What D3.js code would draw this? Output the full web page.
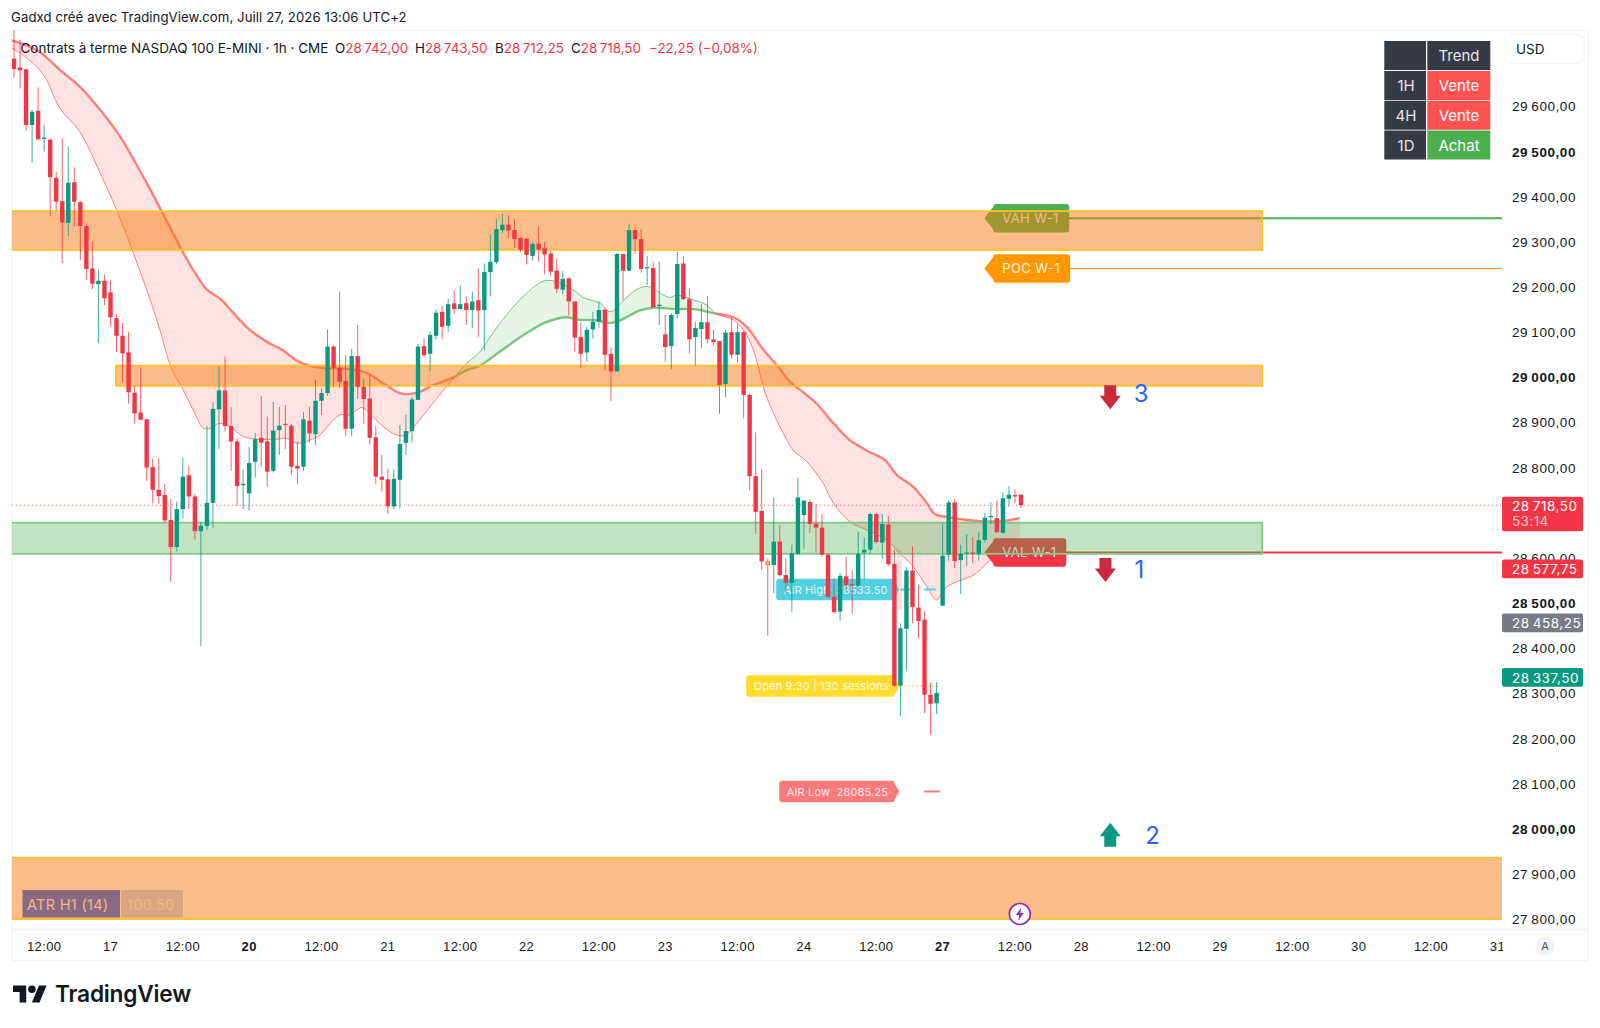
<!DOCTYPE html>
<html lang="fr">
<head>
<meta charset="utf-8">
<title>Contrats à terme NASDAQ 100 E-MINI</title>
<script src="https://cdnjs.cloudflare.com/ajax/libs/d3/7.8.5/d3.min.js"></script>
<style>
  html,body{margin:0;padding:0;background:#fff;}
  svg{display:block;font-family:Inter,"Noto Sans",sans-serif;}
  text{fill:#131722;}
  .price-axis text{font-size:13.5px;letter-spacing:.55px;fill:#131722;}
  .time-axis text{font-size:13px;letter-spacing:.35px;fill:#131722;}
  .domain{display:none;}
</style>
</head>
<body>
<svg id="chart" width="1600" height="1028"></svg>
<script>
// Hourly OHLC, one entry per session bar
const opens = [29708,29688,29684,29561,29592,29530,29528,29444,29392,29344,
29434,29390,29337,29243,29208,29216,29190,29133,29094,29057,
28968,28924,28909,28803,28753,28741,28686,28626,28710,28785,
28738,28661,28673,28724,28931,28973,28894,28860,28763,28745,
28815,28868,28860,28795,28885,28899,28895,28806,28804,28906,
28876,28950,28967,29070,29023,28994,28888,29049,28981,28955,
28869,28782,28776,28716,28775,28857,28883,28952,29071,29054,
29094,29147,29116,29166,29153,29166,29151,29173,29151,29235,
29257,29328,29340,29328,29311,29309,29271,29298,29288,29276,
29238,29196,29221,29170,29091,29057,29108,29125,29152,29054,
29015,29275,29238,29328,29308,29243,29244,29160,29097,29071,
29142,29254,29175,29091,29109,29124,29086,29082,28987,29102,
29052,29102,28963,28783,28706,28594,28586,28638,28564,28547,
28611,28697,28726,28678,28669,28609,28516,28483,28561,28544,
28541,28614,28620,28699,28636,28676,28589,28319,28445,28574,
28492,28465,28299,28280,28496,28609,28725,28597,28612,28614,
28610,28642,28692,28690,28658,28733,28741,28742];
const highs = [29771,29749,29686,29594,29644,29561,29531,29456,29531,29513,
29467,29393,29343,29303,29240,29229,29218,29142,29123,29103,
28983,29024,28909,28821,28823,28766,28732,28727,28823,28806,
28744,28682,28894,28947,29026,29048,28936,28867,28797,28848,
28878,28961,28915,28947,28936,28941,28899,28860,28925,28937,
28996,28978,29108,29074,29192,29051,29065,29118,28998,29009,
28894,28830,28800,28798,28896,28919,28959,29076,29088,29103,
29153,29160,29175,29194,29206,29181,29192,29243,29254,29319,
29352,29364,29361,29352,29312,29310,29302,29336,29302,29282,
29265,29237,29223,29170,29123,29114,29147,29170,29155,29068,
29277,29275,29342,29334,29330,29271,29258,29258,29140,29144,
29280,29271,29199,29125,29164,29182,29108,29083,29107,29135,
29120,29105,28966,28880,28798,28601,28735,28675,28601,28631,
28780,28730,28730,28721,28699,28612,28557,28568,28605,28574,
28660,28647,28702,28702,28699,28695,28620,28457,28581,28628,
28542,28483,28326,28327,28679,28729,28732,28631,28655,28648,
28660,28701,28725,28729,28747,28760,28754,28743.5];
const lows = [29666,29641,29548,29478,29528,29502,29359,29371,29255,29314,
29336,29261,29218,29197,29078,29162,29114,29058,28991,28944,
28900,28909,28773,28723,28722,28679,28549,28616,28690,28710,
28643,28406,28664,28670,28843,28882,28795,28717,28710,28707,
28780,28804,28760,28791,28830,28843,28786,28765,28795,28858,
28852,28919,28961,28980,28978,28872,28871,28954,28899,28854,
28766,28749,28699,28710,28712,28830,28857,28952,29046,29015,
29086,29086,29103,29142,29153,29118,29111,29091,29063,29181,
29253,29322,29310,29289,29280,29252,29260,29258,29231,29226,
29188,29186,29139,29059,29023,29037,29088,29112,29017,28950,
29015,29173,29238,29275,29234,29206,29157,29118,29037,29020,
29133,29173,29055,29028,29066,29077,29072,28921,28958,29044,
29035,28911,28752,28655,28575,28430,28524,28561,28524,28483,
28609,28622,28657,28614,28605,28513,28479,28463,28531,28479,
28538,28553,28611,28634,28599,28584,28317,28251,28352,28457,
28424,28258,28210,28256,28496,28596,28579,28522,28584,28590,
28596,28636,28677,28658,28655,28716,28723,28712.25];
const closes = [29685,29682,29561,29590,29529,29533,29445,29391,29345,29433,
29391,29337,29242,29209,29216,29177,29135,29094,29055,28969,
28922,28908,28802,28753,28739,28685,28626,28710,28782,28738,
28661,28673,28724,28932,28973,28894,28860,28761,28766,28812,
28865,28857,28793,28884,28895,28897,28804,28800,28909,28878,
28950,28967,29070,29023,28992,28888,29049,28981,28954,28868,
28782,28775,28716,28777,28854,28883,28953,29070,29051,29096,
29145,29114,29164,29153,29164,29151,29170,29150,29235,29258,
29330,29340,29327,29308,29285,29273,29297,29285,29274,29236,
29198,29220,29170,29090,29054,29107,29125,29151,29052,29015,
29275,29238,29328,29308,29242,29246,29157,29163,29069,29140,
29253,29175,29086,29111,29124,29086,29080,28985,29101,29052,
29102,28963,28783,28704,28594,28586,28638,28564,28547,28612,
28736,28729,28677,28669,28609,28516,28482,28562,28542,28541,
28611,28620,28699,28637,28677,28588,28319,28446,28574,28493,
28462,28299,28279,28303,28607,28725,28595,28611,28614,28612,
28641,28691,28695,28659,28734,28742,28738,28718.5];

// Slow and fast averages: bar position and price of each sampled point
const slowBars = [-0.4,0.44,3.2,4.9,7.6,10.9,14.3,17.6,21.4,24.8,27.5,29.7,32,34.2,36.4,39.1,41.9,44.7,46.9,49.6,53,55.7,58.5,61.2,64,65.7,67.3,69.5,72.9,75.1,77.3,80.6,85,88.3,91.7,93.3,96.6,98.9,100.5,103.8,106,109.9,112.7,116,119.3,121.5,124.3,126.5,128.7,130.4,133.1,135.9,138.6,141.4,144.4,146.4,149.1,151.4,152.7,154.7,158,160.8,163.5,166.8];
const slowPrices = [29748,29745,29731,29716,29683,29646,29594,29535,29447,29362,29292,29240,29196,29176,29144,29107,29081,29061,29039,29026,29022,29020,29012,28989,28967,28965,28970,28985,29002,29018,29028,29059,29100,29124,29135,29130,29128,29122,29128,29150,29156,29153,29153,29144,29135,29114,29063,29029,28992,28974,28944,28900,28863,28840,28819,28786,28760,28723,28699,28693,28686,28683,28683,28690];
const fastBars = [-0.4,1.5,4.9,7.6,10.9,14.3,17,19.8,22.6,24.2,26.1,27.8,29.7,31.4,32.5,34.2,35.8,38,40.2,43.6,45.2,46.9,49.1,50.7,53,54.1,55.7,57.7,59,61.2,63.5,65.1,66.8,69.5,72.9,75.1,77,80,82.8,85,87.8,90,92.8,94.4,97.2,98.9,101.1,103.3,105.2,107.7,108.8,109.9,112.7,114.9,116.3,119.3,121,122.6,124.8,127.6,129.2,131.5,134.2,135.9,138.6,141.4,144.7,146.9,149.1,151.4,153,154.7,159.1,160.8,162.5,164.1,166.8];
const fastPrices = [29731,29716,29672,29598,29546,29454,29373,29277,29173,29107,29022,28981,28930,28889,28889,28900,28893,28871,28865,28865,28867,28856,28863,28874,28908,28919,28919,28935,28922,28893,28874,28874,28900,28945,29000,29033,29055,29111,29158,29188,29215,29214,29195,29179,29166,29147,29173,29197,29203,29184,29179,29184,29173,29162,29144,29129,29107,29063,28959,28878,28841,28815,28767,28723,28682,28664,28642,28612,28583,28538,28509,28538,28564,28583,28605,28623,28644];
// The averages cross here: bullish between these bars, bearish outside
const crossBars = [73.2, 116.3];

// Supply and demand zones
const zoneTops = [29370, 29028, 28680, 27938];
const zoneBottoms = [29284, 28983, 28611, 27802];
const zoneStartBars = [null, 16.9, null, null];
const zoneEndBars = [207, 207, 207, null];
const zoneKinds = ["supply", "supply", "demand", "supply"];

// Previous-week volume profile levels
const levelNames = ["VAH W-1", "POC W-1", "VAL W-1"];
const levelPrices = [29354, 29243, 28614];
const levelColors = ["#4caf50", "#ff9800", "#f23645"];
const levelWidths = [2, 1, 2];
const levelBoxWidths = [76, 77, 73];

// Session annotations
const sessionNames = ["AIR High  28533.50", "Open 9:30 | 130 sessions", "AIR Low  28085.25"];
const sessionPrices = [28533.5, 28319, 28085.25];
const sessionColors = ["#52cfe2", "#ffdb2e", "#f77b7b"];
const sessionBoxWidths = [117, 147, 114];

// Axis labels
const priceTicks = [27800,27900,28000,28100,28200,28300,28400,28500,28600,28800,28900,29000,29100,29200,29300,29400,29500,29600];
const dayTicks = [16, 39, 62, 85, 108, 131, 154, 177, 200, 223, 246];
const dayLabels = ["17", "20", "21", "22", "23", "24", "27", "28", "29", "30", "31"];
const noonTicks = [5, 28, 51, 74, 97, 120, 143, 166, 189, 212, 235];
const boldDays = ["20", "27"];

// Right-hand price tags
const tagPrices = [28577.75, 28458.25, 28337.5];
const tagColors = ["#f23645", "#787b86", "#089981"];
const lastPrice = closes[closes.length - 1];

// Trend table
const trendFrames = ["1H", "4H", "1D"];
const trendStates = ["Vente", "Vente", "Achat"];

// Numbered scenario arrows
const arrowNumbers = ["3", "1", "2"];
const arrowBars = [181.8, 181, 181.8];
const arrowPrices = [28958, 28575, 27989];
const arrowDirections = ["down", "down", "up"];

// Header figures
const legendOpen = 28742, legendHigh = 28743.5, legendBid = 28712.25, legendClose = 28718.5;
const legendChange = -22.25, legendChangePct = -0.08;

const UP = "#089981", DOWN = "#f23645", TEXT = "#131722";
const PLOT = {left: 12, right: 1502, top: 30, bottom: 929};

const x = d3.scaleLinear().domain([0, 100]).range([14, 617]);
const y = d3.scaleLinear().domain([29600, 27800]).range([107.3, 920]);

const fr = d3.formatLocale({decimal: ",", thousands: "\u2009", grouping: [3], currency: ["", ""]});
const priceFmt = fr.format(",.2f");

const svg = d3.select("#chart");
const defs = svg.append("defs");

// Frame of the chart pane
svg.append("rect").attr("width", 1600).attr("height", 1028).attr("fill", "#fff");
svg.append("rect").attr("x", 11.5).attr("y", 30.5).attr("width", 1577).attr("height", 930)
  .attr("fill", "none").attr("stroke", "#f0f3fa");
svg.append("line").attr("x1", 11.5).attr("x2", 1588).attr("y1", 929.5).attr("y2", 929.5)
  .attr("stroke", "#f0f3fa").attr("stroke-width", 2);

defs.append("clipPath").attr("id", "plot").append("rect")
  .attr("x", PLOT.left).attr("y", PLOT.top)
  .attr("width", PLOT.right - PLOT.left).attr("height", PLOT.bottom - PLOT.top);

const addBand = (id, ranges) => {
  const c = defs.append("clipPath").attr("id", id);
  ranges.forEach(([a, b]) => c.append("rect").attr("x", a).attr("y", 0)
    .attr("width", b - a).attr("height", 1028));
};
addBand("bear", [[0, x(crossBars[0])], [x(crossBars[1]), 1600]]);
addBand("bull", [[x(crossBars[0]), x(crossBars[1])]]);

const plot = svg.append("g").attr("clip-path", "url(#plot)");

// Moving-average ribbon
const slow = slowBars.map((b, i) => [x(b), y(slowPrices[i])]);
const fast = fastBars.map((b, i) => [x(b), y(fastPrices[i])]);
const curve = d3.line().curve(d3.curveCatmullRom.alpha(0.5));
const ribbonPath = curve(slow) + "L" + curve(fast.slice().reverse()).slice(1) + "Z";
[["bear", "rgba(255,82,82,0.17)", "rgba(255,82,82,0.72)"],
 ["bull", "rgba(76,175,80,0.14)", "rgba(76,175,80,0.72)"]].forEach(([id, fill, stroke]) => {
  const g = plot.append("g").attr("clip-path", `url(#${id})`);
  g.append("path").attr("d", ribbonPath).attr("fill", fill);
  g.append("path").attr("d", curve(slow)).attr("fill", "none").attr("stroke", stroke).attr("stroke-width", 2.4);
  g.append("path").attr("d", curve(fast)).attr("fill", "none").attr("stroke", stroke).attr("stroke-width", 1);
});

// Flag-shaped label whose point touches (tipX, cy)
function flag(tipX, cy, w, h, side, r = 3) {
  const t = h / 2;
  if (side === "left") {
    const a = tipX + 9, b = a + w;
    return `M${tipX},${cy}L${a},${cy - t + r}Q${a},${cy - t} ${a + r},${cy - t}L${b - r},${cy - t}Q${b},${cy - t} ${b},${cy - t + r}L${b},${cy + t - r}Q${b},${cy + t} ${b - r},${cy + t}L${a + r},${cy + t}Q${a},${cy + t} ${a},${cy + t - r}Z`;
  }
  const b = tipX - 6, a = b - w;
  return `M${tipX},${cy}L${b},${cy - t}L${a + r},${cy - t}Q${a},${cy - t} ${a},${cy - t + r}L${a},${cy + t - r}Q${a},${cy + t} ${a + r},${cy + t}L${b},${cy + t}Z`;
}

// Previous-week level lines and their labels
const levelTipBar = 160.9;
levelNames.forEach((name, i) => {
  const cy = y(levelPrices[i]), tip = x(levelTipBar);
  plot.append("line").attr("x1", tip + 40).attr("x2", PLOT.right).attr("y1", cy).attr("y2", cy)
    .attr("stroke", levelColors[i]).attr("stroke-width", levelWidths[i]);
  plot.append("path").attr("d", flag(tip, cy, levelBoxWidths[i], 28.5, "left")).attr("fill", levelColors[i]);
  plot.append("text").attr("x", tip + 18).attr("y", cy + 4.7).text(name)
    .style("fill", "rgba(255,255,255,.92)").style("font-size", "13px").style("letter-spacing", ".4px");
});

// Session labels with their dashes
const sessionTipBar = 146.8;
sessionNames.forEach((name, i) => {
  const cy = y(sessionPrices[i]) + (i === 0 ? 0.8 : 0.4), tip = x(sessionTipBar);
  plot.append("path").attr("d", flag(tip, cy, sessionBoxWidths[i], 21.5, "right")).attr("fill", sessionColors[i]);
  plot.append("text").attr("x", tip - 6 - sessionBoxWidths[i] + 7.5).attr("y", cy + 4)
    .attr("xml:space", "preserve").text(name)
    .style("fill", "rgba(255,255,255,.85)").style("font-size", "11px").style("letter-spacing", ".15px");
  const end = x(153.6);
  const dash = plot.append("line").attr("x1", tip + 1).attr("x2", end).attr("y1", cy).attr("y2", cy)
    .attr("stroke", sessionColors[i]).attr("stroke-width", i === 1 ? 1 : 2);
  dash.attr("stroke-dasharray", i === 1 ? "2 2" : (i === 0 ? "10 14 12" : "0 24 12"));
});
plot.append("rect").attr("x", x(146.4)).attr("y", y(28620)).attr("width", 5).attr("height", 60)
  .attr("fill", "rgba(255,82,82,.18)");

// ATR readout, sits under the bottom zone
const atr = plot.append("g");
atr.append("rect").attr("x", 22.5).attr("y", 890).attr("width", 97.5).attr("height", 27.5).attr("fill", "#2356f5");
atr.append("rect").attr("x", 121).attr("y", 890).attr("width", 62).attr("height", 27.5).attr("fill", "#b9cef5");
atr.append("text").attr("x", 27).attr("y", 909.5).text("ATR H1 (14)")
  .style("fill", "#eef").style("font-size", "14.5px").style("letter-spacing", ".3px");
atr.append("text").attr("x", 127).attr("y", 909.5).text("100.50")
  .style("fill", "#eee").style("font-size", "14.5px").style("letter-spacing", ".3px");

// Zones overlay the labels and the ribbon
zoneTops.forEach((top, i) => {
  const demand = zoneKinds[i] === "demand";
  const x0 = zoneStartBars[i] === null ? PLOT.left - 1 : x(zoneStartBars[i]);
  const x1 = zoneEndBars[i] === null ? PLOT.right + 1 : x(zoneEndBars[i]);
  plot.append("rect").attr("x", x0).attr("y", y(top)).attr("width", x1 - x0)
    .attr("height", y(zoneBottoms[i]) - y(top))
    .attr("fill", demand ? "rgba(76,175,80,0.35)" : "rgba(245,124,15,0.5)")
    .attr("stroke", demand ? "#82c985" : "#ffc125").attr("stroke-width", 1.8);
});

// Last-price dotted line
plot.append("line").attr("x1", PLOT.left).attr("x2", PLOT.right)
  .attr("y1", y(lastPrice)).attr("y2", y(lastPrice))
  .attr("stroke", DOWN).attr("stroke-width", 1).attr("stroke-dasharray", "1 3").attr("opacity", .75);

// Candles
const bars = d3.range(opens.length).map(i => ({i, o: opens[i], h: highs[i], l: lows[i], c: closes[i]}));
const candle = plot.append("g").selectAll("g").data(bars).join("g");
candle.append("line")
  .attr("x1", d => x(d.i)).attr("x2", d => x(d.i))
  .attr("y1", d => y(d.h)).attr("y2", d => y(d.l))
  .attr("stroke", d => d.c >= d.o ? UP : DOWN).attr("stroke-width", 1).attr("stroke-opacity", .78);
candle.append("rect")
  .attr("x", d => x(d.i) - 2.2).attr("width", 4.4)
  .attr("y", d => y(Math.max(d.o, d.c)))
  .attr("height", d => Math.max(1.2, Math.abs(y(d.o) - y(d.c))))
  .attr("fill", d => d.c >= d.o ? UP : DOWN);
plot.append("circle").attr("cx", x(125)).attr("cy", y(28590)).attr("r", 1.5).attr("fill", "#ffdb2e");

// Scenario arrows with their numbers
const arrowGap = [23.5, 29, 35];
const numberDrop = [5, 8, 9];
arrowNumbers.forEach((num, i) => {
  const cx = x(arrowBars[i]), cy = y(arrowPrices[i]), s = arrowDirections[i] === "down" ? 1 : -1;
  const pts = [[-6, -12], [6, -12], [6, -1.5], [10.5, -1.5], [0, 12], [-10.5, -1.5], [-6, -1.5]]
    .map(([a, b]) => [cx + a, cy + s * b]);
  plot.append("polygon").attr("points", pts.join(" "))
    .attr("fill", s > 0 ? "#c92a3e" : UP);
  plot.append("text").attr("x", cx + arrowGap[i]).attr("y", cy + numberDrop[i]).text(num)
    .style("fill", "#2962ff").style("font-size", "24px");
});

// Event marker on the time axis side
const flash = svg.append("g").attr("transform", `translate(${x(166.8)},914)`);
flash.append("circle").attr("r", 10.5).attr("fill", "#fff").attr("stroke", "#9c27b0").attr("stroke-width", 1.6);
flash.append("path").attr("d", "M1.5,-6.5L-4,1H-0.5L-1.5,6.5L4,-1H0.5Z").attr("fill", "#9c27b0");

// Price axis
const priceAxis = d3.axisRight(y).tickValues(priceTicks).tickSize(0).tickPadding(0).tickFormat(priceFmt);
svg.append("g").attr("class", "price-axis").attr("transform", "translate(1512,-0.7)").call(priceAxis)
  .selectAll("text").style("font-weight", d => d % 500 === 0 ? 700 : 400);

// Time axis: day boundaries and noon marks
const dayLabel = new Map(dayTicks.map((b, i) => [b, dayLabels[i]]));
const timeAxis = d3.axisBottom(x).tickValues([...dayTicks, ...noonTicks]).tickSize(0).tickPadding(0)
  .tickFormat(b => dayLabel.get(b) || "12:00");
svg.append("g").attr("class", "time-axis").attr("transform", "translate(-0.5,941.5)").call(timeAxis)
  .selectAll("text").style("font-weight", b => boldDays.includes(dayLabel.get(b)) ? 700 : 400);
svg.append("rect").attr("x", 1503).attr("y", 931).attr("width", 85).attr("height", 29).attr("fill", "#fff");
svg.append("circle").attr("cx", 1545).attr("cy", 946).attr("r", 9.5).attr("fill", "#f0f3fa");
svg.append("text").attr("x", 1545).attr("y", 950).attr("text-anchor", "middle").text("A")
  .style("font-size", "11px").style("fill", "#50535e");

// Price tags over the axis
function tag(price, color, top, h) {
  svg.append("rect").attr("x", 1502).attr("y", top).attr("width", 81).attr("height", h)
    .attr("rx", 2).attr("fill", color);
  svg.append("text").attr("x", 1512).attr("y", y(price) + 5.4).text(priceFmt(price))
    .style("fill", "#fff").style("font-size", "13.5px").style("letter-spacing", ".55px");
}
tag(lastPrice, DOWN, y(lastPrice) - 8.5, 34.5);
svg.append("text").attr("x", 1512).attr("y", y(lastPrice) + 20.5).text("53:14")
  .style("fill", "rgba(255,255,255,.75)").style("font-size", "13.5px").style("letter-spacing", ".4px");
tagPrices.forEach((p, i) => tag(p, tagColors[i], y(p) - 9.3, 18.8));

// Currency button
svg.append("rect").attr("x", 1505.5).attr("y", 34.5).attr("width", 78.5).attr("height", 29).attr("rx", 6)
  .attr("fill", "#fff").attr("stroke", "#f0f3fa");
svg.append("text").attr("x", 1516).attr("y", 53.5).text("USD").style("font-size", "13.5px");

// Trend table
const rowTops = [41, 71, 100.7, 130.5], rowH = 29;
svg.append("rect").attr("x", 1384.3).attr("y", rowTops[0]).attr("width", 41.7).attr("height", rowH).attr("fill", "#363a45");
svg.append("rect").attr("x", 1427.3).attr("y", rowTops[0]).attr("width", 63).attr("height", rowH).attr("fill", "#363a45");
svg.append("text").attr("x", 1459).attr("y", rowTops[0] + 20).attr("text-anchor", "middle").text("Trend")
  .style("fill", "#e6e7ea").style("font-size", "15px");
trendFrames.forEach((f, i) => {
  const top = rowTops[i + 1], st = trendStates[i];
  svg.append("rect").attr("x", 1384.3).attr("y", top).attr("width", 41.7).attr("height", rowH).attr("fill", "#363a45");
  svg.append("rect").attr("x", 1427.3).attr("y", top).attr("width", 63).attr("height", rowH)
    .attr("fill", st === "Achat" ? "#4caf50" : "#ff5252");
  svg.append("text").attr("x", 1406).attr("y", top + 20).attr("text-anchor", "middle").text(f)
    .style("fill", "#e6e7ea").style("font-size", "15px");
  svg.append("text").attr("x", 1459).attr("y", top + 20).attr("text-anchor", "middle").text(st)
    .style("fill", "#fff").style("font-size", "15px");
});

// Header line and symbol legend
svg.append("text").attr("x", 11).attr("y", 21.5).text("Gadxd créé avec TradingView.com, Juill 27, 2026 13:06 UTC+2")
  .style("font-size", "13.2px").style("letter-spacing", ".07px");
const legendY = 53;
svg.append("text").attr("x", 20.5).attr("y", legendY).text("Contrats à terme NASDAQ 100 E-MINI · 1h · CME")
  .style("font-size", "13.5px");
[["O", legendOpen, 335], ["H", legendHigh, 415], ["B", legendBid, 495], ["C", legendClose, 571]].forEach(([k, v, px]) => {
  const t = svg.append("text").attr("x", px).attr("y", legendY).style("font-size", "13.4px");
  t.append("tspan").text(k);
  t.append("tspan").text(priceFmt(v)).style("fill", DOWN);
});
svg.append("text").attr("x", 649).attr("y", legendY)
  .text(`\u2212${priceFmt(-legendChange)} (\u2212${priceFmt(-legendChangePct)}%)`)
  .style("font-size", "13.4px").style("fill", DOWN);

// Brand mark
const brand = svg.append("g").attr("transform", "translate(13,981.6) scale(0.945)").attr("fill", "#131722");
brand.append("path").attr("d", "M14 22H7V11H0V4h14v18zM28 22h-8l7.5-18h8L28 22z");
brand.append("circle").attr("cx", 20).attr("cy", 8).attr("r", 4);
svg.append("text").attr("x", 55).attr("y", 1002).text("TradingView")
  .style("font-size", "22.7px").style("font-weight", 600).style("letter-spacing", "-.2px");
</script>
</body>
</html>
